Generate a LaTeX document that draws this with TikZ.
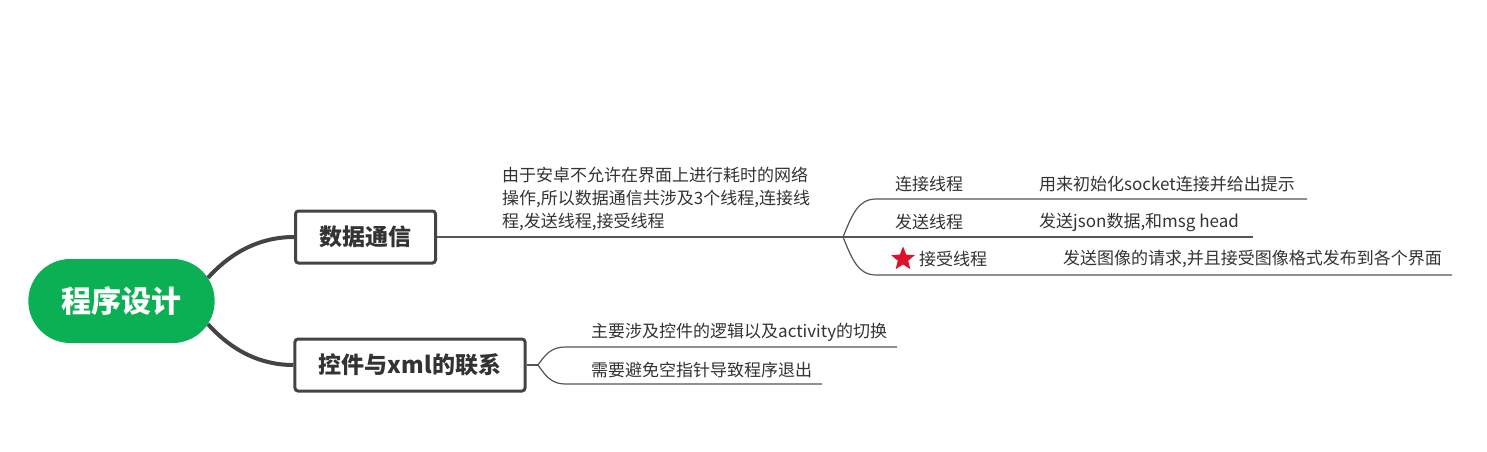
\documentclass[tikz,border=0pt]{standalone}
\usepackage{fontspec}
\setmainfont{Noto Sans CJK SC}
\usetikzlibrary{shapes.misc,shapes.geometric}
\definecolor{rootgreen}{RGB}{12,176,84}
\definecolor{linegray}{RGB}{68,68,68}
\definecolor{thingray}{RGB}{85,85,85}
\definecolor{starred}{RGB}{221,17,39}
\begin{document}
\begin{tikzpicture}[x=1pt,y=1pt,
  rootnode/.style={rounded rectangle, fill=rootgreen, text=white, minimum width=193, minimum height=84, font=\fontsize{30}{30}\selectfont\bfseries},
  topic/.style={draw=linegray, line width=3, rounded corners=3, fill=white, minimum height=52, inner xsep=24, text=black!80, font=\fontsize{23}{23}\selectfont\bfseries},
  leaf/.style={anchor=west, inner sep=0, text=black!80, font=\fontsize{17}{23}\selectfont},
  branch/.style={draw=linegray, line width=4},
  twig/.style={draw=thingray, line width=1.2}]
\useasboundingbox (0,0) rectangle (1487,-451);
\node[rootnode] (root) at (121.5,-301) {程序设计};
\node[topic] (data) at (365.5,-237) {数据通信};
\node[topic] (ctrl) at (410,-365) {控件与xml的联系};
\draw[branch] (root.15) .. controls +(18,20) and +(-40,0) .. (data.west);
\draw[branch] (root.-15) .. controls +(18,-20) and +(-40,0) .. (ctrl.west);

\node[leaf, align=left] (why) at (502,-199) {由于安卓不允许在界面上进行耗时的网络\\操作,所以数据通信共涉及3个线程,连接线\\程,发送线程,接受线程};
\coordinate (fork1) at (843,-237);
\coordinate (end1) at (1307,-199);
\coordinate (end2) at (1253,-237);
\coordinate (end3) at (1452,-275);
\draw[twig] (data.east) -- (fork1);
\draw[twig] (fork1) .. controls +(9,22) and +(-18,0) .. (876,-199) -- (end1);
\draw[twig] (fork1) -- (end2);
\draw[twig] (fork1) .. controls +(9,-22) and +(-18,0) .. (876,-275) -- (end3);
\node[leaf] (conn) at (895,-184) {连接线程};
\node[leaf] (connnote) at (1039,-184) {用来初始化socket连接并给出提示};
\node[leaf] (send) at (895,-222) {发送线程};
\node[leaf] (sendnote) at (1039,-222) {发送json数据,和msg head};
\node[star, star points=5, star point ratio=2.3, fill=starred, minimum size=25, inner sep=0] (star) at (903,-259) {};
\node[leaf] (recv) at (919,-259) {接受线程};
\node[leaf] (recvnote) at (1063,-259) {发送图像的请求,并且接受图像格式发布到各个界面};

\coordinate (fork2) at (538,-365);
\coordinate (end4) at (897,-347);
\coordinate (end5) at (822,-384);
\draw[twig] (ctrl.east) -- (fork2);
\draw[twig] (fork2) .. controls +(7,10) and +(-14,0) .. (565,-347) -- (end4);
\draw[twig] (fork2) .. controls +(7,-10) and +(-14,0) .. (565,-384) -- (end5);
\node[leaf] (logic) at (591,-332) {主要涉及控件的逻辑以及activity的切换};
\node[leaf] (null) at (591,-370) {需要避免空指针导致程序退出};
\end{tikzpicture}
\end{document}
